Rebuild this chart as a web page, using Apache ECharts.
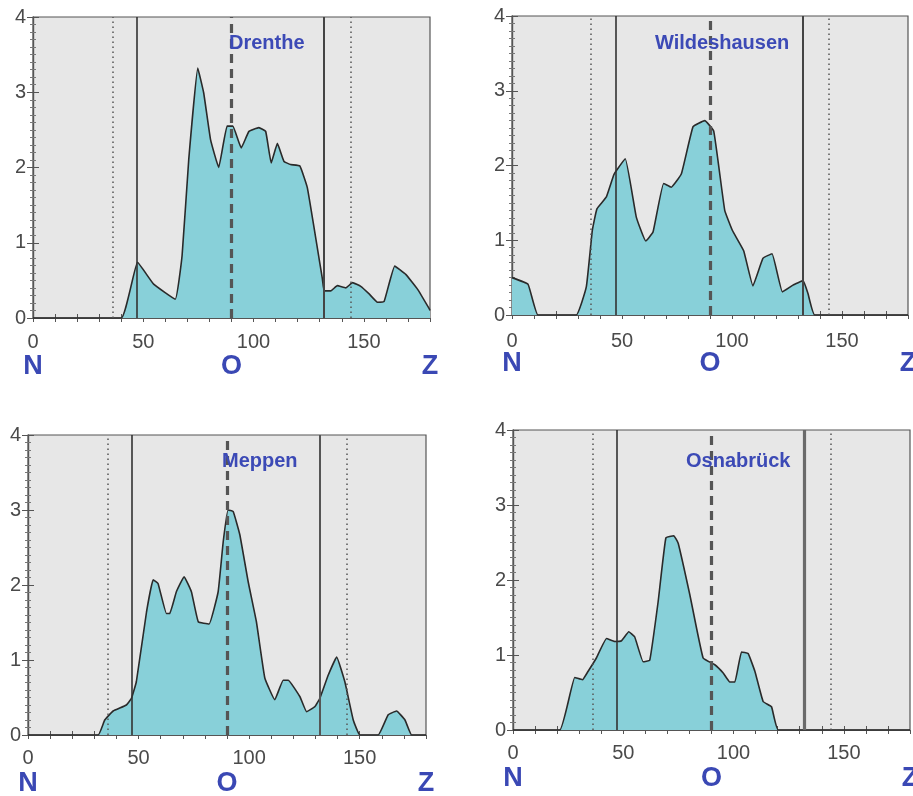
<!DOCTYPE html>
<html>
<head>
<meta charset="utf-8">
<script src="https://cdn.jsdelivr.net/npm/echarts@6/dist/echarts.min.js"></script>
<style>
html,body{margin:0;padding:0;background:#fff;}
#c{width:913px;height:796px;}
</style>
</head>
<body>
<div id="c"></div>
<script>
// ---- data ----
const panelTitles = ['Drenthe', 'Wildeshausen', 'Meppen', 'Osnabrück'];
const xTickLabels = [0, 50, 100, 150];
const compassLabels = ['N', 'O', 'Z'];
const yTicks = [0, 1, 2, 3, 4];
const refLines = [36, 47, 90, 132, 144];

const drenthe = [
  [0,0],[40,0],[47.4,0.74],[54.7,0.45],[64.5,0.25],[67.6,0.83],[70.6,2.1],[74.7,3.32],
  [77.4,2.99],[80.5,2.37],[84.2,2.0],[88,2.55],[90.6,2.55],[94.4,2.26],[97.9,2.48],
  [102.4,2.53],[105.5,2.48],[108,2.06],[110.8,2.32],[113.8,2.08],[116.8,2.04],[121,2.02],
  [124.4,1.73],[131.2,0.52],[132,0.36],[135,0.36],[138,0.43],[141.8,0.4],[144.9,0.47],
  [148.6,0.42],[152.4,0.32],[156.2,0.21],[159.2,0.22],[164,0.69],[169,0.58],[174.4,0.38],
  [179.7,0.12],[180,0.1]
];
const wildeshausen = [
  [0,0.5],[7.3,0.41],[11.8,0],[29.2,0],[33.8,0.38],[36.5,1.13],[38.6,1.42],[42.9,1.58],
  [46.2,1.87],[47.4,1.93],[51.5,2.09],[56.5,1.31],[60.8,0.99],[64.1,1.11],[68.9,1.76],
  [72.4,1.71],[77,1.89],[82.3,2.52],[87.6,2.6],[91.7,2.46],[96.7,1.4],[100.2,1.13],
  [105.3,0.86],[109.5,0.39],[114.1,0.76],[118.2,0.82],[122.9,0.31],[127.7,0.4],
  [132.3,0.46],[134.5,0.29],[137.6,0],[180,0]
];
const meppen = [
  [0,0],[31.7,0],[34.7,0.2],[38.5,0.32],[44.5,0.4],[46.8,0.49],[49,0.71],[53.6,1.64],
  [56.6,2.07],[58.8,2.02],[62.6,1.62],[64.1,1.62],[67.1,1.91],[70.6,2.11],[73.9,1.91],
  [77,1.51],[81.9,1.48],[86,1.91],[88.3,2.58],[90.5,3.0],[92.8,2.98],[95.8,2.67],
  [99.6,2.04],[103.3,1.51],[107.1,0.76],[111.6,0.47],[115.4,0.73],[117.7,0.73],[123,0.51],
  [126,0.31],[129.8,0.38],[132,0.49],[135.8,0.8],[139.6,1.04],[143.3,0.71],[147.1,0.2],
  [150.1,0],[158.4,0],[162.9,0.27],[166.7,0.32],[170.5,0.2],[173.5,0],[180,0]
];
const osnabrueck = [
  [0,0],[21.2,0],[28,0.7],[31.5,0.67],[34,0.78],[37.8,0.96],[42.4,1.22],[46.1,1.18],
  [49.2,1.19],[52.5,1.31],[55.2,1.24],[59,0.91],[62,0.93],[65.8,1.71],[69.3,2.56],
  [72.9,2.59],[74.9,2.49],[80.2,1.8],[86.2,0.96],[91.5,0.87],[95.3,0.76],[98.3,0.64],
  [100.6,0.64],[103.6,1.04],[106.6,1.02],[109.7,0.78],[113.4,0.38],[117.2,0.31],
  [120.3,0],[180,0]
];
const seriesData = [drenthe, wildeshausen, meppen, osnabrueck];

// ---- layout / style ----
const grids = [
  {left: 33, top: 17, width: 397, height: 301},
  {left: 512, top: 16, width: 396, height: 299},
  {left: 28, top: 435, width: 398, height: 300},
  {left: 513, top: 430, width: 397, height: 300}
];
const titlePos = [
  {left: 229, top: 33},
  {left: 655, top: 33},
  {left: 222, top: 451},
  {left: 686, top: 451}
];
const xLabelMargin = [14, 16, 13, 13];
const lastSolidWidth = [2, 2, 2, 3.2];
const lastSolidColor = ['#444', '#444', '#555', '#6a6a6a'];

const tickFont = {color: '#4a4a4a', fontSize: 20, fontFamily: 'Liberation Sans'};

const option = {
  animation: false,
  backgroundColor: '#ffffff',
  title: [], grid: [], xAxis: [], yAxis: [], series: []
};

for (let i = 0; i < 4; i++) {
  option.grid.push(Object.assign({
    show: true, backgroundColor: '#e7e7e7', borderColor: '#555', borderWidth: 1.2,
    containLabel: false, outerBoundsMode: 'none'
  }, grids[i]));
  option.title.push(Object.assign({
    text: panelTitles[i], padding: 0,
    textStyle: {color: '#3c4ab6', fontSize: 20, fontWeight: 'bold', fontFamily: 'Liberation Sans'}
  }, titlePos[i]));

  // main bottom x axis
  option.xAxis.push({
    type: 'value', gridIndex: i, min: 0, max: 180, interval: 10, position: 'bottom',
    axisLine: {show: true, lineStyle: {color: '#555', width: 1.2}},
    axisTick: {show: true, inside: true, length: 4, lineStyle: {color: '#555'}},
    axisLabel: Object.assign({
      margin: xLabelMargin[i], showMaxLabel: false,
      formatter: v => (xTickLabels.indexOf(v) >= 0 ? String(v) : '')
    }, tickFont),
    splitLine: {show: false}
  });
  // top x axis (ticks only)
  option.xAxis.push({
    type: 'value', gridIndex: i, min: 0, max: 180, interval: 10, position: 'top',
    axisLine: {show: true, lineStyle: {color: '#555', width: 1.2}},
    axisTick: {show: true, inside: true, length: 4, lineStyle: {color: '#555'}},
    axisLabel: {show: false}, splitLine: {show: false}
  });
  // compass labels axis
  option.xAxis.push({
    type: 'value', gridIndex: i, min: 0, max: 180, interval: 90, position: 'bottom', offset: 32,
    axisLine: {show: false}, axisTick: {show: false}, splitLine: {show: false},
    axisLabel: {
      margin: 3, showMinLabel: true, showMaxLabel: true,
      color: '#3a48b4', fontSize: 27, fontWeight: 'bold', fontFamily: 'Liberation Sans',
      formatter: v => compassLabels[Math.round(v / 90)]
    }
  });
  // left y axis
  option.yAxis.push({
    type: 'value', gridIndex: i, min: yTicks[0], max: yTicks[yTicks.length - 1], interval: 1, position: 'left',
    axisLine: {show: true, lineStyle: {color: '#555', width: 1.2}},
    axisTick: {show: true, inside: true, length: 6, lineStyle: {color: '#555'}},
    minorTick: {show: true, splitNumber: 10, length: 3, lineStyle: {color: '#777'}},
    axisLabel: Object.assign({margin: 7}, tickFont),
    splitLine: {show: false}
  });
  // right y axis (ticks only)
  option.yAxis.push({
    type: 'value', gridIndex: i, min: 0, max: 4, interval: 1, position: 'right',
    axisLine: {show: true, lineStyle: {color: '#555', width: 1.2}},
    axisTick: {show: true, inside: true, length: 6, lineStyle: {color: '#555'}},
    minorTick: {show: true, splitNumber: 10, length: 3, lineStyle: {color: '#777'}},
    axisLabel: {show: false}, splitLine: {show: false}
  });

  const dotted = {color: '#555', width: 1.5, type: [1.5, 3.5]};
  option.series.push({
    type: 'line', xAxisIndex: i * 3, yAxisIndex: i * 2,
    data: seriesData[i], symbol: 'none', smooth: 0.1,
    lineStyle: {color: '#2a2a2a', width: 1.6},
    areaStyle: {color: '#88d0d9', opacity: 1},
    z: 2,
    markLine: {
      silent: true, symbol: ['none', 'none'], label: {show: false}, z: 5,
      data: [
        {xAxis: refLines[0], lineStyle: dotted},
        {xAxis: refLines[1], lineStyle: {color: '#333', width: 1.6, type: 'solid'}},
        {xAxis: refLines[2], lineStyle: {color: '#555', width: 3.2, type: [9, 6]}},
        {xAxis: refLines[3], lineStyle: {color: lastSolidColor[i], width: lastSolidWidth[i], type: 'solid'}},
        {xAxis: refLines[4], lineStyle: dotted}
      ]
    }
  });
}

const chart = echarts.init(document.getElementById('c'), null, {renderer: 'canvas'});
chart.setOption(option);
</script>
</body>
</html>
